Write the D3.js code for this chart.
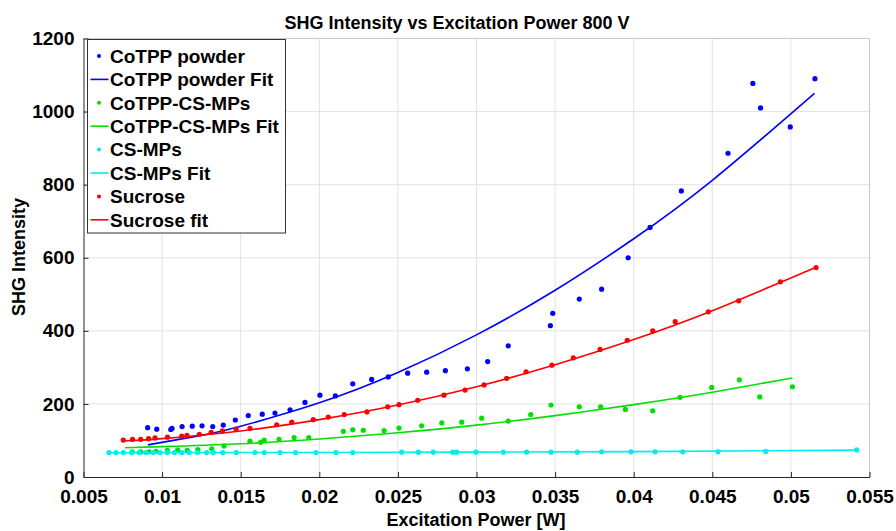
<!DOCTYPE html>
<html>
<head>
    <title>SHG Intensity</title>
    <script src="https://d3js.org/d3.v7.min.js"></script>
    <style>
        body { margin: 0; background: #fff; }
        svg text { font-family: "Liberation Sans", Arial, Helvetica, sans-serif; font-weight: bold; fill: #000; }
    </style>
</head>
<body>
<svg id="chart"></svg>
<script>
// --- data ---
const cotppX = [0.00908,0.00966,0.01055,0.01063,0.01127,0.01192,0.01254,0.01322,0.01389,0.01466,0.01548,0.01637,0.01718,0.01814,0.01909,0.02004,0.02102,0.02213,0.02333,0.02439,0.02562,0.02683,0.02802,0.02942,0.03071,0.03202,0.0347,0.03485,0.03654,0.03796,0.03965,0.04104,0.04303,0.046,0.04758,0.04807,0.04996,0.05153];
const cotppY = [135,131,130,133,138,139,140,138,142,156,168,172,175,184,204,224,222,255,267,274,284,287,291,296,316,359,414,448,487,514,600,683,783,886,1077,1010,958,1090];
const cotppFitX = [0.0091,0.0125,0.015,0.02,0.025,0.03,0.035,0.04,0.045,0.0515];
const cotppFitY = [88,114,139,203,286,389,511,652,812,1050];

const csmpX = [0.0081,0.00864,0.00917,0.00961,0.01033,0.01099,0.0116,0.01227,0.01316,0.01394,0.01559,0.01626,0.0165,0.01744,0.0184,0.01933,0.02153,0.02213,0.0228,0.02412,0.02507,0.02651,0.02779,0.02906,0.03033,0.03202,0.03345,0.03474,0.03654,0.0379,0.03947,0.04121,0.04295,0.04496,0.04672,0.04802,0.05009];
const csmpY = [69,69,69,70,73,74,73,75,77,85,98,95,101,103,108,108,125,129,128,127,134,140,148,150,161,153,171,197,192,192,185,181,218,245,266,219,247];
const csmpFitX = [0.00764,0.01,0.015,0.02,0.025,0.03,0.035,0.04,0.045,0.0501];
const csmpFitY = [80,83,91,104,121,142,168,198,232,271];

const csX = [0.00662,0.00707,0.00753,0.00807,0.00853,0.00896,0.00944,0.00987,0.01033,0.01078,0.01125,0.01173,0.01226,0.01284,0.01326,0.01386,0.01472,0.01591,0.0165,0.0175,0.01849,0.01979,0.02106,0.02213,0.02524,0.0263,0.02725,0.02849,0.02874,0.02997,0.03171,0.03319,0.03474,0.03641,0.03796,0.03983,0.04136,0.04312,0.04536,0.0484,0.05419];
const csY = [67,67,67,67,67,67,67,67,67,67,67,67,67,67,67,67,67,67,67,67,67,67,67,67,68,68,68,68,68,68,68,68,68,68,69,69,69,69,69,70,74];
const csFitX = [0.00657,0.02,0.03,0.04,0.0542];
const csFitY = [66.5,67,68,69.5,73.5];

const sucroseX = [0.00753,0.00812,0.00864,0.00914,0.00955,0.01034,0.01125,0.01158,0.01237,0.01312,0.01384,0.01471,0.01559,0.01729,0.01825,0.01962,0.02057,0.02159,0.02303,0.02435,0.02507,0.02626,0.02793,0.02927,0.03048,0.03192,0.03315,0.0348,0.03616,0.03786,0.03959,0.04121,0.04264,0.04475,0.04668,0.04933,0.0516];
const sucroseY = [101,103,103,105,107,109,112,114,117,122,126,131,133,143,150,157,164,171,178,192,198,210,224,238,252,270,288,306,326,349,374,400,425,452,482,534,573];
const sucroseFitX = [0.00753,0.01,0.015,0.02,0.025,0.03,0.035,0.04,0.045,0.0516];
const sucroseFitY = [98.5,105,126,157,197,247,307,376,455,574];

const xTicks = [0.005,0.01,0.015,0.02,0.025,0.03,0.035,0.04,0.045,0.05,0.055];
const xTickLabels = ["0.005","0.01","0.015","0.02","0.025","0.03","0.035","0.04","0.045","0.05","0.055"];
const yTicks = [0,200,400,600,800,1000,1200];

const seriesNames = ["CoTPP powder","CoTPP powder Fit","CoTPP-CS-MPs","CoTPP-CS-MPs Fit","CS-MPs","CS-MPs Fit","Sucrose","Sucrose fit"];
const seriesColors = ["#0000ff","#0000ff","#00e000","#00e000","#00eeee","#00eeee","#ff0000","#ff0000"];

const W = 896, H = 531;
const pLeft = 83.5, pRight = 869.5, pTop = 38.5, pBottom = 477;

const svg = d3.select("#chart").attr("width", W).attr("height", H);
svg.append("rect").attr("width", W).attr("height", H).attr("fill", "#fff");

const x = d3.scaleLinear().domain([0.005, 0.055]).range([pLeft, pRight]);
const y = d3.scaleLinear().domain([0, 1200]).range([pBottom, pTop]);

// grid
svg.append("g").selectAll("line").data(xTicks.slice(1, -1)).join("line")
    .attr("x1", d => x(d)).attr("x2", d => x(d)).attr("y1", pTop).attr("y2", pBottom)
    .attr("stroke", "#e2e2e2").attr("stroke-width", 1);
svg.append("g").selectAll("line").data(yTicks.slice(1, -1)).join("line")
    .attr("y1", d => y(d)).attr("y2", d => y(d)).attr("x1", pLeft).attr("x2", pRight)
    .attr("stroke", "#e2e2e2").attr("stroke-width", 1);
// light box on top / right
svg.append("path").attr("d", `M${pLeft},${pTop}H${pRight}V${pBottom}`)
    .attr("fill", "none").attr("stroke", "#c8c8c8");

// axes
const xAxis = svg.append("g").attr("transform", `translate(0,${pBottom})`)
    .call(d3.axisBottom(x).tickValues(xTicks).tickFormat((d, i) => xTickLabels[i])
        .tickSizeInner(-5).tickSizeOuter(0).tickPadding(13));
const yAxis = svg.append("g").attr("transform", `translate(${pLeft},0)`)
    .call(d3.axisLeft(y).tickValues(yTicks).tickFormat(d3.format("d"))
        .tickSizeInner(-5).tickSizeOuter(0).tickPadding(9));
[xAxis, yAxis].forEach(a => {
    a.attr("font-family", null).attr("font-size", null);
    a.select(".domain").attr("stroke", "#262626");
    a.selectAll(".tick line").attr("stroke", "#262626");
    a.selectAll(".tick text").attr("font-size", 19).attr("fill", "#000");
});

// series
const pts = [[cotppX, cotppY], null, [csmpX, csmpY], null, [csX, csY], null, [sucroseX, sucroseY], null];
const fits = [null, [cotppFitX, cotppFitY], null, [csmpFitX, csmpFitY], null, [csFitX, csFitY], null, [sucroseFitX, sucroseFitY]];
const line = d3.line().x(d => x(d[0])).y(d => y(d[1])).curve(d3.curveNatural);

seriesNames.forEach((name, i) => {
    const c = seriesColors[i];
    if (fits[i]) {
        const arr = fits[i][0].map((v, k) => [v, fits[i][1][k]]);
        svg.append("path").datum(arr).attr("d", line)
            .attr("fill", "none").attr("stroke", c).attr("stroke-width", 1.6);
    }
    if (pts[i]) {
        const arr = pts[i][0].map((v, k) => [v, pts[i][1][k]]);
        svg.append("g").selectAll("circle").data(arr).join("circle")
            .attr("cx", d => x(d[0])).attr("cy", d => y(d[1])).attr("r", 2.6).attr("fill", c);
    }
});

// legend
const lg = svg.append("g");
lg.append("rect").attr("x", 87.5).attr("y", 39.5).attr("width", 198).attr("height", 193.5)
    .attr("fill", "#fff").attr("stroke", "#333");
seriesNames.forEach((name, i) => {
    const cy = 56 + i * 23.4;
    if (i % 2 === 0) {
        lg.append("circle").attr("cx", 99).attr("cy", cy).attr("r", 2).attr("fill", seriesColors[i]);
    } else {
        lg.append("line").attr("x1", 90.5).attr("x2", 108.5).attr("y1", cy).attr("y2", cy)
            .attr("stroke", seriesColors[i]).attr("stroke-width", 1.6);
    }
    lg.append("text").attr("x", 110).attr("y", cy).attr("dy", "0.36em")
        .attr("font-size", 19).text(name);
});

// titles
svg.append("text").attr("x", 457).attr("y", 29).attr("text-anchor", "middle")
    .attr("font-size", 18).text("SHG Intensity vs Excitation Power 800 V");
svg.append("text").attr("x", 476).attr("y", 526).attr("text-anchor", "middle")
    .attr("font-size", 18).text("Excitation Power [W]");
svg.append("text").attr("transform", "translate(25,257) rotate(-90)").attr("text-anchor", "middle")
    .attr("font-size", 18).text("SHG Intensity");
</script>
</body>
</html>
